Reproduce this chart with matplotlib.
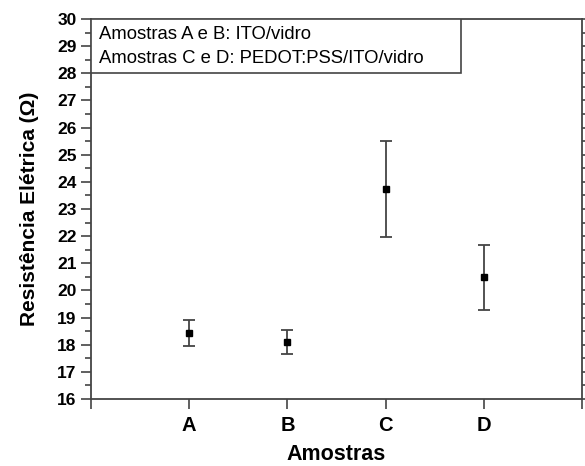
import matplotlib.pyplot as plt
from matplotlib.patches import Rectangle
from matplotlib.ticker import MultipleLocator

# Sample labels and measured resistance (mean +/- error)
samples = ['A', 'B', 'C', 'D']
positions = [1, 2, 3, 4]
resistance = [18.44, 18.09, 23.74, 20.48]
error = [0.48, 0.45, 1.78, 1.19]

legend_lines = ['Amostras A e B: ITO/vidro',
                'Amostras C e D: PEDOT:PSS/ITO/vidro']

plt.rcParams['font.family'] = ['Liberation Sans', 'DejaVu Sans']

fig = plt.figure(figsize=(5.85, 4.66), dpi=100)
ax = fig.add_axes([0.1556, 0.1438, 0.8394, 0.8155])

ax.errorbar(positions, resistance, yerr=error, fmt='s', color='black',
            markersize=5, ecolor='#444444', elinewidth=1.3, capsize=4,
            capthick=1.3)

ax.set_xlim(0, 5)
ax.set_ylim(16, 30)
ax.set_xticks([0, 1, 2, 3, 4, 5])
ax.set_xticklabels([''] + samples + [''])
ax.yaxis.set_major_locator(MultipleLocator(1))
ax.yaxis.set_minor_locator(MultipleLocator(0.5))

ax.tick_params(axis='both', which='major', direction='out', length=7,
               width=1.2, color='#444444', labelsize=12.5)
ax.tick_params(axis='y', which='minor', direction='out', length=4,
               width=1.2, color='#444444')
ax.tick_params(axis='y', which='both', right=True)
ax.tick_params(axis='x', which='major', labelsize=14.5, pad=5)
for lbl in ax.get_xticklabels() + ax.get_yticklabels():
    lbl.set_fontweight('bold')

for s in ax.spines.values():
    s.set_color('#444444')
    s.set_linewidth(1.3)

ax.set_xlabel('Amostras', fontsize=15.5, fontweight='bold', labelpad=7)
ax.set_ylabel('Resistência Elétrica (Ω)', fontsize=15, fontweight='bold',
              labelpad=13)

# Legend-like box in the upper left corner
ax.add_patch(Rectangle((0, 0.858), 0.7536, 0.142, transform=ax.transAxes,
                       facecolor='white', edgecolor='#444444', linewidth=1.2,
                       zorder=5))
ax.text(0.016, 0.958, legend_lines[0], transform=ax.transAxes,
        fontsize=13.3, va='center', ha='left', zorder=6)
ax.text(0.016, 0.897, legend_lines[1], transform=ax.transAxes,
        fontsize=13.3, va='center', ha='left', zorder=6)

fig.savefig('out.png')
